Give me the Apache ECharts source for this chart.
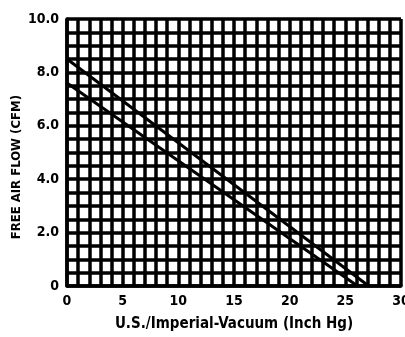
<!DOCTYPE html>
<html>
<head>
<meta charset="utf-8">
<script src="https://cdn.jsdelivr.net/npm/echarts@6/dist/echarts.min.js"></script>
<style>
html,body{margin:0;padding:0;background:#fff;overflow:hidden;}
#chart{width:405px;height:337px;}
</style>
</head>
<body>
<div id="chart"></div>
<script>
var xTitle = 'U.S./Imperial-Vacuum (Inch Hg)';
var yTitle = 'FREE AIR FLOW (CFM)';
var upperLine = [[0, 8.5], [27.1, 0]];
var lowerLine = [[0, 7.6], [26.1, 0]];
var xLabels = {0: '0', 5: '5', 10: '10', 15: '15', 20: '20', 25: '25', 30: '30'};
var yLabels = {0: '0', 2: '2.0', 4: '4.0', 6: '6.0', 8: '8.0', 10: '10.0'};

var font = '"DejaVu Sans Condensed", "Liberation Sans Narrow", sans-serif';
var chart = echarts.init(document.getElementById('chart'));
chart.setOption({
  animation: false,
  backgroundColor: '#fff',
  grid: {left: 67, right: 4, top: 19, bottom: 51, containLabel: false, outerBoundsMode: 'none'},
  graphic: [{
    type: 'text', left: 10, top: 95, rotation: Math.PI / 2,
    style: {text: yTitle, font: 'bold 13px ' + font, fill: '#000'}
  }],
  xAxis: {
    type: 'value', min: 0, max: 30, interval: 1,
    name: xTitle, nameLocation: 'middle', nameGap: 31,
    nameTextStyle: {fontFamily: font, fontWeight: 'bold', fontSize: 15, color: '#000'},
    axisLine: {show: true, lineStyle: {color: '#000', width: 3.5}},
    axisTick: {show: false},
    splitLine: {show: true, lineStyle: {color: '#000', width: 3.5}},
    axisLabel: {
      fontFamily: font, fontWeight: 'bold', fontSize: 14, color: '#000', margin: 8,
      formatter: function (v) { return xLabels[v] !== undefined ? xLabels[v] : ''; }
    }
  },
  yAxis: {
    type: 'value', min: 0, max: 10, interval: 0.5,
    axisLine: {show: true, lineStyle: {color: '#000', width: 3.5}},
    axisTick: {show: false},
    splitLine: {show: true, lineStyle: {color: '#000', width: 3.5}},
    axisLabel: {
      fontFamily: font, fontWeight: 'bold', fontSize: 14, color: '#000', margin: 8,
      formatter: function (v) { return yLabels[v] !== undefined ? yLabels[v] : ''; }
    }
  },
  series: [
    {type: 'line', data: upperLine, symbol: 'none', lineStyle: {color: '#000', width: 3}, z: 5},
    {type: 'line', data: lowerLine, symbol: 'none', lineStyle: {color: '#000', width: 3}, z: 5}
  ]
});
</script>
</body>
</html>
